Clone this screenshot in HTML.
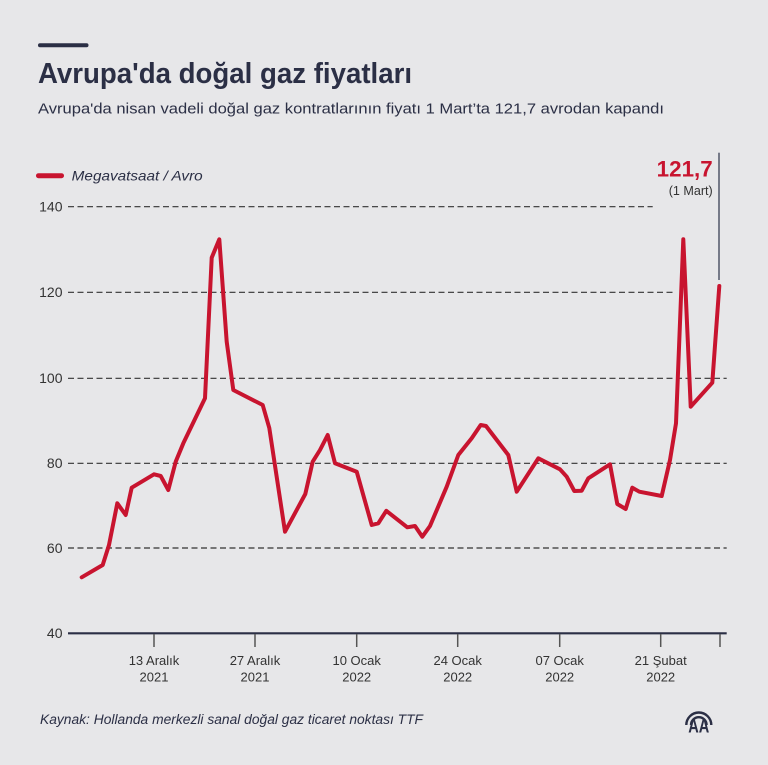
<!DOCTYPE html>
<html><head><meta charset="utf-8">
<style>
html,body{margin:0;padding:0;background:#e7e7e9;}
svg{display:block;}
text{font-family:"Liberation Sans",sans-serif;}
</style></head>
<body>
<svg width="768" height="765" viewBox="0 0 768 765" xmlns="http://www.w3.org/2000/svg">
<rect width="768" height="765" fill="#e7e7e9"/>
<!-- top bar -->
<line x1="40" y1="45.3" x2="86.5" y2="45.3" stroke="#2b2f45" stroke-width="4" stroke-linecap="round"/>
<text x="38" y="83" font-size="29" font-weight="bold" fill="#2b2f45" textLength="374" lengthAdjust="spacingAndGlyphs">Avrupa'da doğal gaz fiyatları</text>
<text x="38" y="113.5" font-size="15" fill="#2b2f45" textLength="626" lengthAdjust="spacingAndGlyphs">Avrupa'da nisan vadeli doğal gaz kontratlarının fiyatı 1 Mart’ta 121,7 avrodan kapandı</text>

<!-- legend -->
<line x1="38.5" y1="175.7" x2="61.5" y2="175.7" stroke="#c8142f" stroke-width="5" stroke-linecap="round"/>
<text x="71.7" y="180.5" font-size="14" font-style="italic" fill="#2b2f45" textLength="131" lengthAdjust="spacingAndGlyphs">Megavatsaat / Avro</text>

<!-- annotation -->
<line x1="719" y1="152.7" x2="719" y2="280" stroke="#3a3f55" stroke-width="1.3"/>
<text x="712.7" y="176.5" font-size="22" font-weight="bold" fill="#c8142f" text-anchor="end" textLength="56" lengthAdjust="spacingAndGlyphs">121,7</text>
<text x="712.7" y="195" font-size="13" fill="#333" text-anchor="end" textLength="44" lengthAdjust="spacingAndGlyphs">(1 Mart)</text>

<!-- gridlines -->
<g stroke="#333" stroke-width="1.2" stroke-dasharray="6 3.5">
<line x1="68" y1="206.7" x2="652.7" y2="206.7"/>
<line x1="68" y1="292.3" x2="672.7" y2="292.3"/>
<line x1="68" y1="378.3" x2="726.7" y2="378.3"/>
<line x1="68" y1="463.3" x2="726.7" y2="463.3"/>
<line x1="68" y1="548" x2="726.7" y2="548"/>
</g>
<!-- y labels -->
<g font-size="14" fill="#333" text-anchor="end">
<text x="62.5" y="211.5">140</text>
<text x="62.5" y="297">120</text>
<text x="62.5" y="383">100</text>
<text x="62.5" y="468">80</text>
<text x="62.5" y="553">60</text>
<text x="62.5" y="638">40</text>
</g>
<!-- axis -->
<line x1="68" y1="633.3" x2="726.7" y2="633.3" stroke="#2b2f45" stroke-width="2.2"/>
<g stroke="#555" stroke-width="1.5">
<line x1="154" y1="634" x2="154" y2="647"/>
<line x1="255" y1="634" x2="255" y2="647"/>
<line x1="356.7" y1="634" x2="356.7" y2="647"/>
<line x1="457.7" y1="634" x2="457.7" y2="647"/>
<line x1="559.7" y1="634" x2="559.7" y2="647"/>
<line x1="660.7" y1="634" x2="660.7" y2="647"/>
<line x1="720" y1="634" x2="720" y2="647"/>
</g>
<g font-size="13" fill="#333" text-anchor="middle">
<text x="154" y="665">13 Aralık</text><text x="154" y="681.5">2021</text>
<text x="255" y="665">27 Aralık</text><text x="255" y="681.5">2021</text>
<text x="356.7" y="665">10 Ocak</text><text x="356.7" y="681.5">2022</text>
<text x="457.7" y="665">24 Ocak</text><text x="457.7" y="681.5">2022</text>
<text x="559.7" y="665">07 Ocak</text><text x="559.7" y="681.5">2022</text>
<text x="660.7" y="665">21 Şubat</text><text x="660.7" y="681.5">2022</text>
</g>

<!-- series -->
<polyline fill="none" stroke="#c8142f" stroke-width="4" stroke-linejoin="round" stroke-linecap="round" points="
81.7,577.3 102.7,565 109,545 117.3,503.3 125.7,515 131.7,487.7 154,474.3 160.7,476 168.3,490 175.7,461.7 183.3,443.3 205,398.3 211.7,257.7 219.3,239.3 226.7,341.7 233.3,390 262.7,405 269.3,428 285,531.7 305.3,494 312.7,461.7 320,450 327.7,435 335,463.3 356.7,471.7 371.7,525 378.3,523.3 386.3,510.8 407.3,527.3 415,526 422.3,536.7 430,526 446.7,486.7 458.3,455 471.7,438.3 480.7,425 486,426 508.3,455 516.7,491.7 538.3,458.3 560,469.3 566.7,476.7 574.3,491 581.7,490.7 588.3,478.3 610,464.3 617.3,504 625.7,509 632.3,487.7 639.3,491.7 661.7,496 670,460 676,423.3 683.3,239.3 690.7,406.7 712.3,382.7 719.3,286"/>

<!-- source -->
<text x="40" y="724" font-size="13.5" font-style="italic" fill="#2b2f45" textLength="383" lengthAdjust="spacingAndGlyphs">Kaynak: Hollanda merkezli sanal doğal gaz ticaret noktası TTF</text>

<!-- AA logo -->
<g fill="none" stroke="#2b2f45" stroke-width="2.4">
<path d="M686.3,725 A12.5,12.5 0 0 1 711.3,725"/>
<path d="M691,725 A7.8,7.8 0 0 1 706.6,725"/>
</g>
<text x="698.8" y="732.3" font-size="19" font-weight="bold" fill="#2b2f45" text-anchor="middle" textLength="21" lengthAdjust="spacingAndGlyphs">AA</text>
</svg>
</body></html>
